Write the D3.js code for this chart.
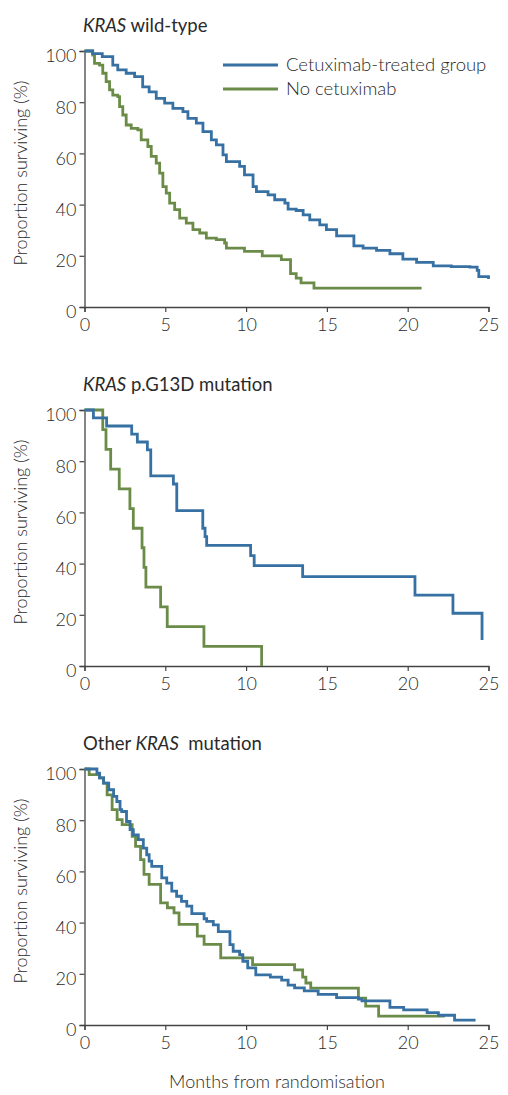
<!DOCTYPE html>
<html>
<head>
<meta charset="utf-8">
<script src="https://d3js.org/d3.v7.min.js"></script>
<style>
  body { margin: 0; background: #fff; }
  text { font-family: Lato, "Open Sans", sans-serif; font-weight: 300; fill: #2a2a2a; }
</style>
</head>
<body>
<div id="chart"></div>
<script>
// ---- data (months, % surviving) ----
var xTicks = [0, 5, 10, 15, 20, 25];
var yTicks = [0, 20, 40, 60, 80, 100];
var seriesNames = ["Cetuximab-treated group", "No cetuximab"];

// KRAS wild-type
var wtCetuxTime = [0, 0.5, 1.1, 1.75, 2.06, 2.58, 3.1, 3.6, 4.0, 4.44, 4.96, 5.47, 6.09, 6.4, 6.92, 7.33, 7.85, 8.16, 8.57, 8.78, 9.6, 9.9, 10.43, 10.64, 11.36, 11.77, 12.4, 12.6, 13.1, 13.53, 13.94, 14.56, 14.97, 15.6, 16.67, 17.24, 18.07, 18.9, 19.7, 20.55, 21.58, 22.7, 23.85, 24.3, 24.4, 25.0];
var wtCetuxSurv = [100, 99, 97.8, 94.5, 92.6, 91.3, 90, 86, 84, 81.5, 79.6, 77.6, 76.3, 73.7, 71.8, 68.5, 65.3, 63.3, 59.4, 56.8, 54.9, 51.6, 47, 45.1, 43.8, 41.9, 40.6, 38.2, 37.7, 36, 34, 32.1, 30.2, 27.8, 23.9, 23, 22.1, 20.8, 18.7, 17.4, 16.1, 15.8, 15.6, 14.3, 11.9, 10.9];
var wtNoneTime = [0, 0.51, 0.62, 0.93, 1.13, 1.34, 1.55, 1.75, 2.06, 2.17, 2.37, 2.58, 2.89, 3.3, 3.51, 3.92, 4.13, 4.44, 4.65, 4.85, 5.06, 5.27, 5.58, 5.89, 6.3, 6.71, 7.13, 7.54, 8.16, 8.67, 8.78, 9.9, 11.0, 12.18, 12.75, 13.1, 13.4, 14.2, 20.86];
var wtNoneSurv = [100, 98.4, 95.2, 94.5, 91.3, 88, 84.8, 82.8, 82.2, 78.3, 75, 71.1, 69.8, 69.2, 65.3, 62.7, 58.8, 56.2, 52.3, 47, 44.5, 40.6, 38, 34.7, 32.8, 30.2, 28.9, 26.9, 26.3, 25, 23, 21.7, 20, 18.5, 13, 11.3, 9.4, 7.4, 7.4];

// KRAS p.G13D mutation
var g13CetuxTime = [0, 0.55, 1.37, 2.92, 3.27, 3.89, 4.1, 5.5, 5.71, 7.32, 7.46, 7.56, 10.28, 10.5, 13.5, 20.45, 22.8, 24.6];
var g13CetuxSurv = [100, 96.9, 93.75, 90.6, 87.5, 84.4, 74.3, 71.1, 60.7, 53.8, 50.5, 47.1, 43.1, 39.2, 34.9, 27.7, 20.6, 10.2];
var g13NoneTime = [0, 1.13, 1.33, 1.62, 2.15, 2.81, 3.02, 3.56, 3.68, 3.8, 4.71, 5.12, 7.39, 10.96];
var g13NoneSurv = [100, 92.3, 84.6, 76.9, 69.2, 61.5, 53.8, 46.2, 38.5, 30.8, 23.1, 15.4, 7.7, 0];

// Other KRAS mutation
var othCetuxTime = [0, 0.77, 0.93, 1.18, 1.5, 1.8, 2.0, 2.2, 2.3, 2.6, 2.82, 3.02, 3.33, 3.64, 3.85, 4.0, 4.16, 4.78, 5.09, 5.4, 5.7, 6.0, 6.33, 6.64, 7.4, 7.56, 7.97, 8.28, 9.0, 9.2, 9.6, 9.8, 10.1, 10.6, 11.5, 12.2, 12.6, 13.0, 13.6, 14.46, 15.6, 16.95, 17.17, 18.9, 19.75, 21.2, 21.9, 22.9, 24.2];
var othCetuxSurv = [100, 98.4, 96.5, 94.5, 91.9, 89.3, 87.3, 84.1, 83.4, 79.5, 76.3, 74.3, 72.4, 69.1, 66.5, 64, 62, 57.5, 55.4, 52.3, 50.3, 48.3, 46.4, 43.5, 41.5, 40.5, 39.1, 36.5, 31.4, 28.8, 27.5, 24.9, 22.3, 19.6, 18.7, 17.5, 15.6, 14.5, 13.3, 12, 10.7, 10.1, 9.4, 6.9, 5.9, 4.8, 3.8, 1.9, 1.9];
var othNoneTime = [0, 0.29, 0.94, 1.18, 1.4, 1.71, 2.02, 2.33, 2.95, 3.16, 3.47, 3.68, 4.0, 4.71, 5.13, 5.54, 5.85, 6.98, 7.4, 8.43, 10.4, 13.0, 13.5, 13.7, 14.0, 16.95, 17.4, 18.2, 22.3];
var othNoneSurv = [100, 97.8, 96.5, 94.5, 89.9, 84.1, 80.2, 78.3, 73.7, 69.8, 64.6, 58.8, 54.9, 47.7, 45.8, 43.8, 39.3, 34.7, 31.5, 26.2, 23.6, 21.5, 18.7, 16.4, 14.4, 10.5, 7.4, 3.5, 3.5];

var colors = ["#3770a2", "#6b8c48"];

var svgWidth = 508, svgHeight = 1095;
var svg = d3.select("#chart").append("svg")
    .attr("width", svgWidth)
    .attr("height", svgHeight);

var panelLeft = 84.5, panelRight = 488.5, panelHeight = 256;

function pairs(t, s) {
    return t.map(function (d, i) { return [d, s[i]]; });
}

function drawPanel(top, titleParts, cetux, none, withLegend) {
    var x = d3.scaleLinear().domain([0, 25]).range([panelLeft, panelRight]);
    var y = d3.scaleLinear().domain([0, 100]).range([top + panelHeight, top]);

    var g = svg.append("g");

    // title
    var title = g.append("text")
        .attr("x", 83)
        .attr("y", top - 19)
        .style("font-size", "18.5px")
        .style("font-weight", 400)
        .style("white-space", "pre");
    titleParts.forEach(function (p) {
        title.append("tspan")
            .style("font-style", p.italic ? "italic" : "normal")
            .text(p.text);
    });

    // axes
    var xAxis = g.append("g")
        .attr("transform", "translate(0," + (top + panelHeight) + ")")
        .call(d3.axisBottom(x).tickValues(xTicks).tickSize(5).tickPadding(4));
    var yAxis = g.append("g")
        .attr("transform", "translate(" + panelLeft + ",0)")
        .call(d3.axisLeft(y).tickValues(yTicks).tickSize(5).tickPadding(3));

    [xAxis, yAxis].forEach(function (a) {
        a.select(".domain").attr("stroke", "#444").attr("stroke-width", 1.3);
        a.selectAll(".tick line").attr("stroke", "#444").attr("stroke-width", 1.2);
        a.selectAll(".tick text")
            .style("font-family", "Lato, sans-serif")
            .style("font-weight", 300)
            .style("font-size", "18px")
            .attr("fill", "#333");
    });
    yAxis.selectAll(".tick text").attr("dy", "0.6em");
    xAxis.selectAll(".tick text").attr("dy", "0.85em");

    // y label
    g.append("text")
        .attr("transform", "translate(27," + (top + panelHeight / 2 - 6) + ") rotate(-90)")
        .attr("text-anchor", "middle")
        .style("font-size", "18px")
        .text("Proportion surviving (%)");

    // survival curves
    var line = d3.line()
        .x(function (d) { return x(d[0]); })
        .y(function (d) { return y(d[1]); })
        .curve(d3.curveStepAfter);

    [none, cetux].forEach(function (s, i) {
        g.append("path")
            .datum(s)
            .attr("fill", "none")
            .attr("stroke", i === 0 ? colors[1] : colors[0])
            .attr("stroke-width", 2.8)
            .attr("d", line);
    });

    if (withLegend) {
        var legend = g.append("g").selectAll("g")
            .data(seriesNames)
            .enter()
            .append("g")
            .attr("transform", function (d, i) { return "translate(223," + (top + 14 + i * 24) + ")"; });
        legend.append("line")
            .attr("x1", 0).attr("x2", 55)
            .attr("stroke", function (d, i) { return colors[i]; })
            .attr("stroke-width", 3);
        legend.append("text")
            .attr("x", 63)
            .attr("y", 6)
            .style("font-size", "18.5px")
            .text(function (d) { return d; });
    }
}

drawPanel(51, [{ text: "KRAS", italic: true }, { text: " wild-type" }],
    pairs(wtCetuxTime, wtCetuxSurv), pairs(wtNoneTime, wtNoneSurv), true);
drawPanel(410, [{ text: "KRAS", italic: true }, { text: " p.G13D mutation" }],
    pairs(g13CetuxTime, g13CetuxSurv), pairs(g13NoneTime, g13NoneSurv), false);
drawPanel(769, [{ text: "Other " }, { text: "KRAS", italic: true }, { text: "  mutation" }],
    pairs(othCetuxTime, othCetuxSurv), pairs(othNoneTime, othNoneSurv), false);

// shared x label
svg.append("text")
    .attr("x", 277)
    .attr("y", 1088)
    .attr("text-anchor", "middle")
    .style("font-size", "18px")
    .text("Months from randomisation");
</script>
</body>
</html>
